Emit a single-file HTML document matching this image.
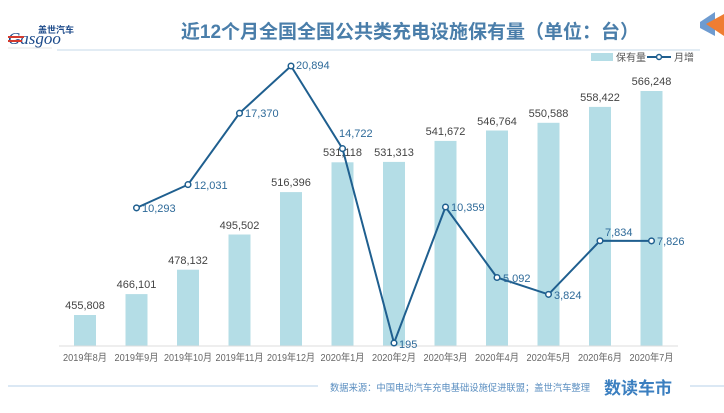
<!DOCTYPE html>
<html><head><meta charset="utf-8"><style>
body{margin:0;background:#fff;}
svg{display:block;font-family:"Liberation Sans","Noto Sans CJK SC",sans-serif;}
</style></head><body>
<svg width="724" height="413" viewBox="0 0 724 413">
<text x="38" y="33" font-size="9" fill="#1c4a8a" font-weight="bold">盖世汽车</text>
<text x="8" y="44" font-size="17" fill="#1c4a8a" font-family="Liberation Serif, serif" font-style="italic">Gasgoo</text>
<rect x="8" y="36" width="16" height="2" fill="#d43b2f"/><rect x="8" y="40" width="14" height="2" fill="#d43b2f"/>
<line x1="8" y1="48" x2="52" y2="48" stroke="#ccc" stroke-width="0.5"/>
<text x="410" y="38" font-size="19" font-weight="bold" fill="#4a7eaa" text-anchor="middle">近12个月全国全国公共类充电设施保有量（单位：台）</text>
<line x1="57" y1="50" x2="700" y2="50" stroke="#c5d8ea" stroke-width="1"/>
<polygon points="700,22 715,12 715,36 700,28" fill="#6e9bd0"/>
<polygon points="706,24 724,14 724,36" fill="#ef7d32"/>
<rect x="591" y="53" width="22" height="8" fill="#b4dde6"/>
<text x="616" y="61" font-size="10" fill="#555">保有量</text>
<line x1="647" y1="57" x2="671" y2="57" stroke="#1f5f8f" stroke-width="2"/>
<circle cx="659" cy="57" r="2.5" fill="#fff" stroke="#1f5f8f" stroke-width="1.5"/>
<text x="674" y="61" font-size="10" fill="#555">月增</text>
<g fill="#b4dde6">
<rect x="74" y="315" width="22" height="31"/>
<rect x="125.5" y="294.1" width="22" height="51.9"/>
<rect x="177" y="269.7" width="22" height="76.3"/>
<rect x="228.5" y="234.5" width="22" height="111.5"/>
<rect x="280" y="192.1" width="22" height="153.9"/>
<rect x="331.5" y="162.3" width="22" height="183.7"/>
<rect x="383" y="161.9" width="22" height="184.1"/>
<rect x="434.5" y="140.9" width="22" height="205.1"/>
<rect x="486" y="130.5" width="22" height="215.5"/>
<rect x="537.5" y="122.8" width="22" height="223.2"/>
<rect x="589" y="106.9" width="22" height="239.1"/>
<rect x="640.5" y="91" width="22" height="255"/>
</g>
<line x1="59" y1="346" x2="678" y2="346" stroke="#ddd" stroke-width="1"/>
<g fill="#444" font-size="11" text-anchor="middle">
<text x="85" y="309">455,808</text>
<text x="136.5" y="288">466,101</text>
<text x="188" y="264">478,132</text>
<text x="239.5" y="229">495,502</text>
<text x="291" y="186">516,396</text>
<text x="342.5" y="156">531,118</text>
<text x="394" y="156">531,313</text>
<text x="445.5" y="135">541,672</text>
<text x="497" y="125">546,764</text>
<text x="548.5" y="117">550,588</text>
<text x="600" y="101">558,422</text>
<text x="651.5" y="85">566,248</text>
</g>
<g fill="#666" font-size="10" text-anchor="middle">
<text x="85" y="361" textLength="44" lengthAdjust="spacingAndGlyphs">2019年8月</text><text x="136.5" y="361" textLength="44" lengthAdjust="spacingAndGlyphs">2019年9月</text><text x="188" y="361" textLength="48" lengthAdjust="spacingAndGlyphs">2019年10月</text><text x="239.5" y="361" textLength="48" lengthAdjust="spacingAndGlyphs">2019年11月</text><text x="291" y="361" textLength="48" lengthAdjust="spacingAndGlyphs">2019年12月</text><text x="342.5" y="361" textLength="44" lengthAdjust="spacingAndGlyphs">2020年1月</text><text x="394" y="361" textLength="44" lengthAdjust="spacingAndGlyphs">2020年2月</text><text x="445.5" y="361" textLength="44" lengthAdjust="spacingAndGlyphs">2020年3月</text><text x="497" y="361" textLength="44" lengthAdjust="spacingAndGlyphs">2020年4月</text><text x="548.5" y="361" textLength="44" lengthAdjust="spacingAndGlyphs">2020年5月</text><text x="600" y="361" textLength="44" lengthAdjust="spacingAndGlyphs">2020年6月</text><text x="651.5" y="361" textLength="44" lengthAdjust="spacingAndGlyphs">2020年7月</text>
</g>
<polyline fill="none" stroke="#1f5f8f" stroke-width="2" points="136.5,207.9 188,184.6 239.5,113.2 291,66 342.5,148.6 394,343 445.5,207 497,277.5 548.5,294.4 600,240.8 651.5,240.9"/>
<g fill="#fff" stroke="#1f5f8f" stroke-width="1.5">
<circle cx="136.5" cy="207.9" r="2.8"/><circle cx="188" cy="184.6" r="2.8"/><circle cx="239.5" cy="113.2" r="2.8"/><circle cx="291" cy="66" r="2.8"/><circle cx="342.5" cy="148.6" r="2.8"/><circle cx="394" cy="343" r="2.8"/><circle cx="445.5" cy="207" r="2.8"/><circle cx="497" cy="277.5" r="2.8"/><circle cx="548.5" cy="294.4" r="2.8"/><circle cx="600" cy="240.8" r="2.8"/><circle cx="651.5" cy="240.9" r="2.8"/>
</g>
<g fill="#2e6a99" font-size="11">
<text x="142" y="212">10,293</text>
<text x="194" y="189">12,031</text>
<text x="245" y="117">17,370</text>
<text x="296" y="69">20,894</text>
<text x="339" y="137">14,722</text>
<text x="399" y="348">195</text>
<text x="451" y="211">10,359</text>
<text x="503" y="282">5,092</text>
<text x="554" y="299">3,824</text>
<text x="605" y="236">7,834</text>
<text x="657" y="245">7,826</text>
</g>
<line x1="8" y1="386" x2="318" y2="386" stroke="#b7d0e8" stroke-width="1"/>
<text x="330" y="391" font-size="9.5" fill="#5a8ec0" textLength="260" lengthAdjust="spacingAndGlyphs">数据来源：中国电动汽车充电基础设施促进联盟；盖世汽车整理</text>
<text x="604" y="394" font-size="17" fill="#3b7fc0" font-weight="bold" textLength="68" lengthAdjust="spacingAndGlyphs">数读车市</text>
<line x1="690" y1="386" x2="724" y2="386" stroke="#b7d0e8" stroke-width="1"/>
</svg>
</body></html>
